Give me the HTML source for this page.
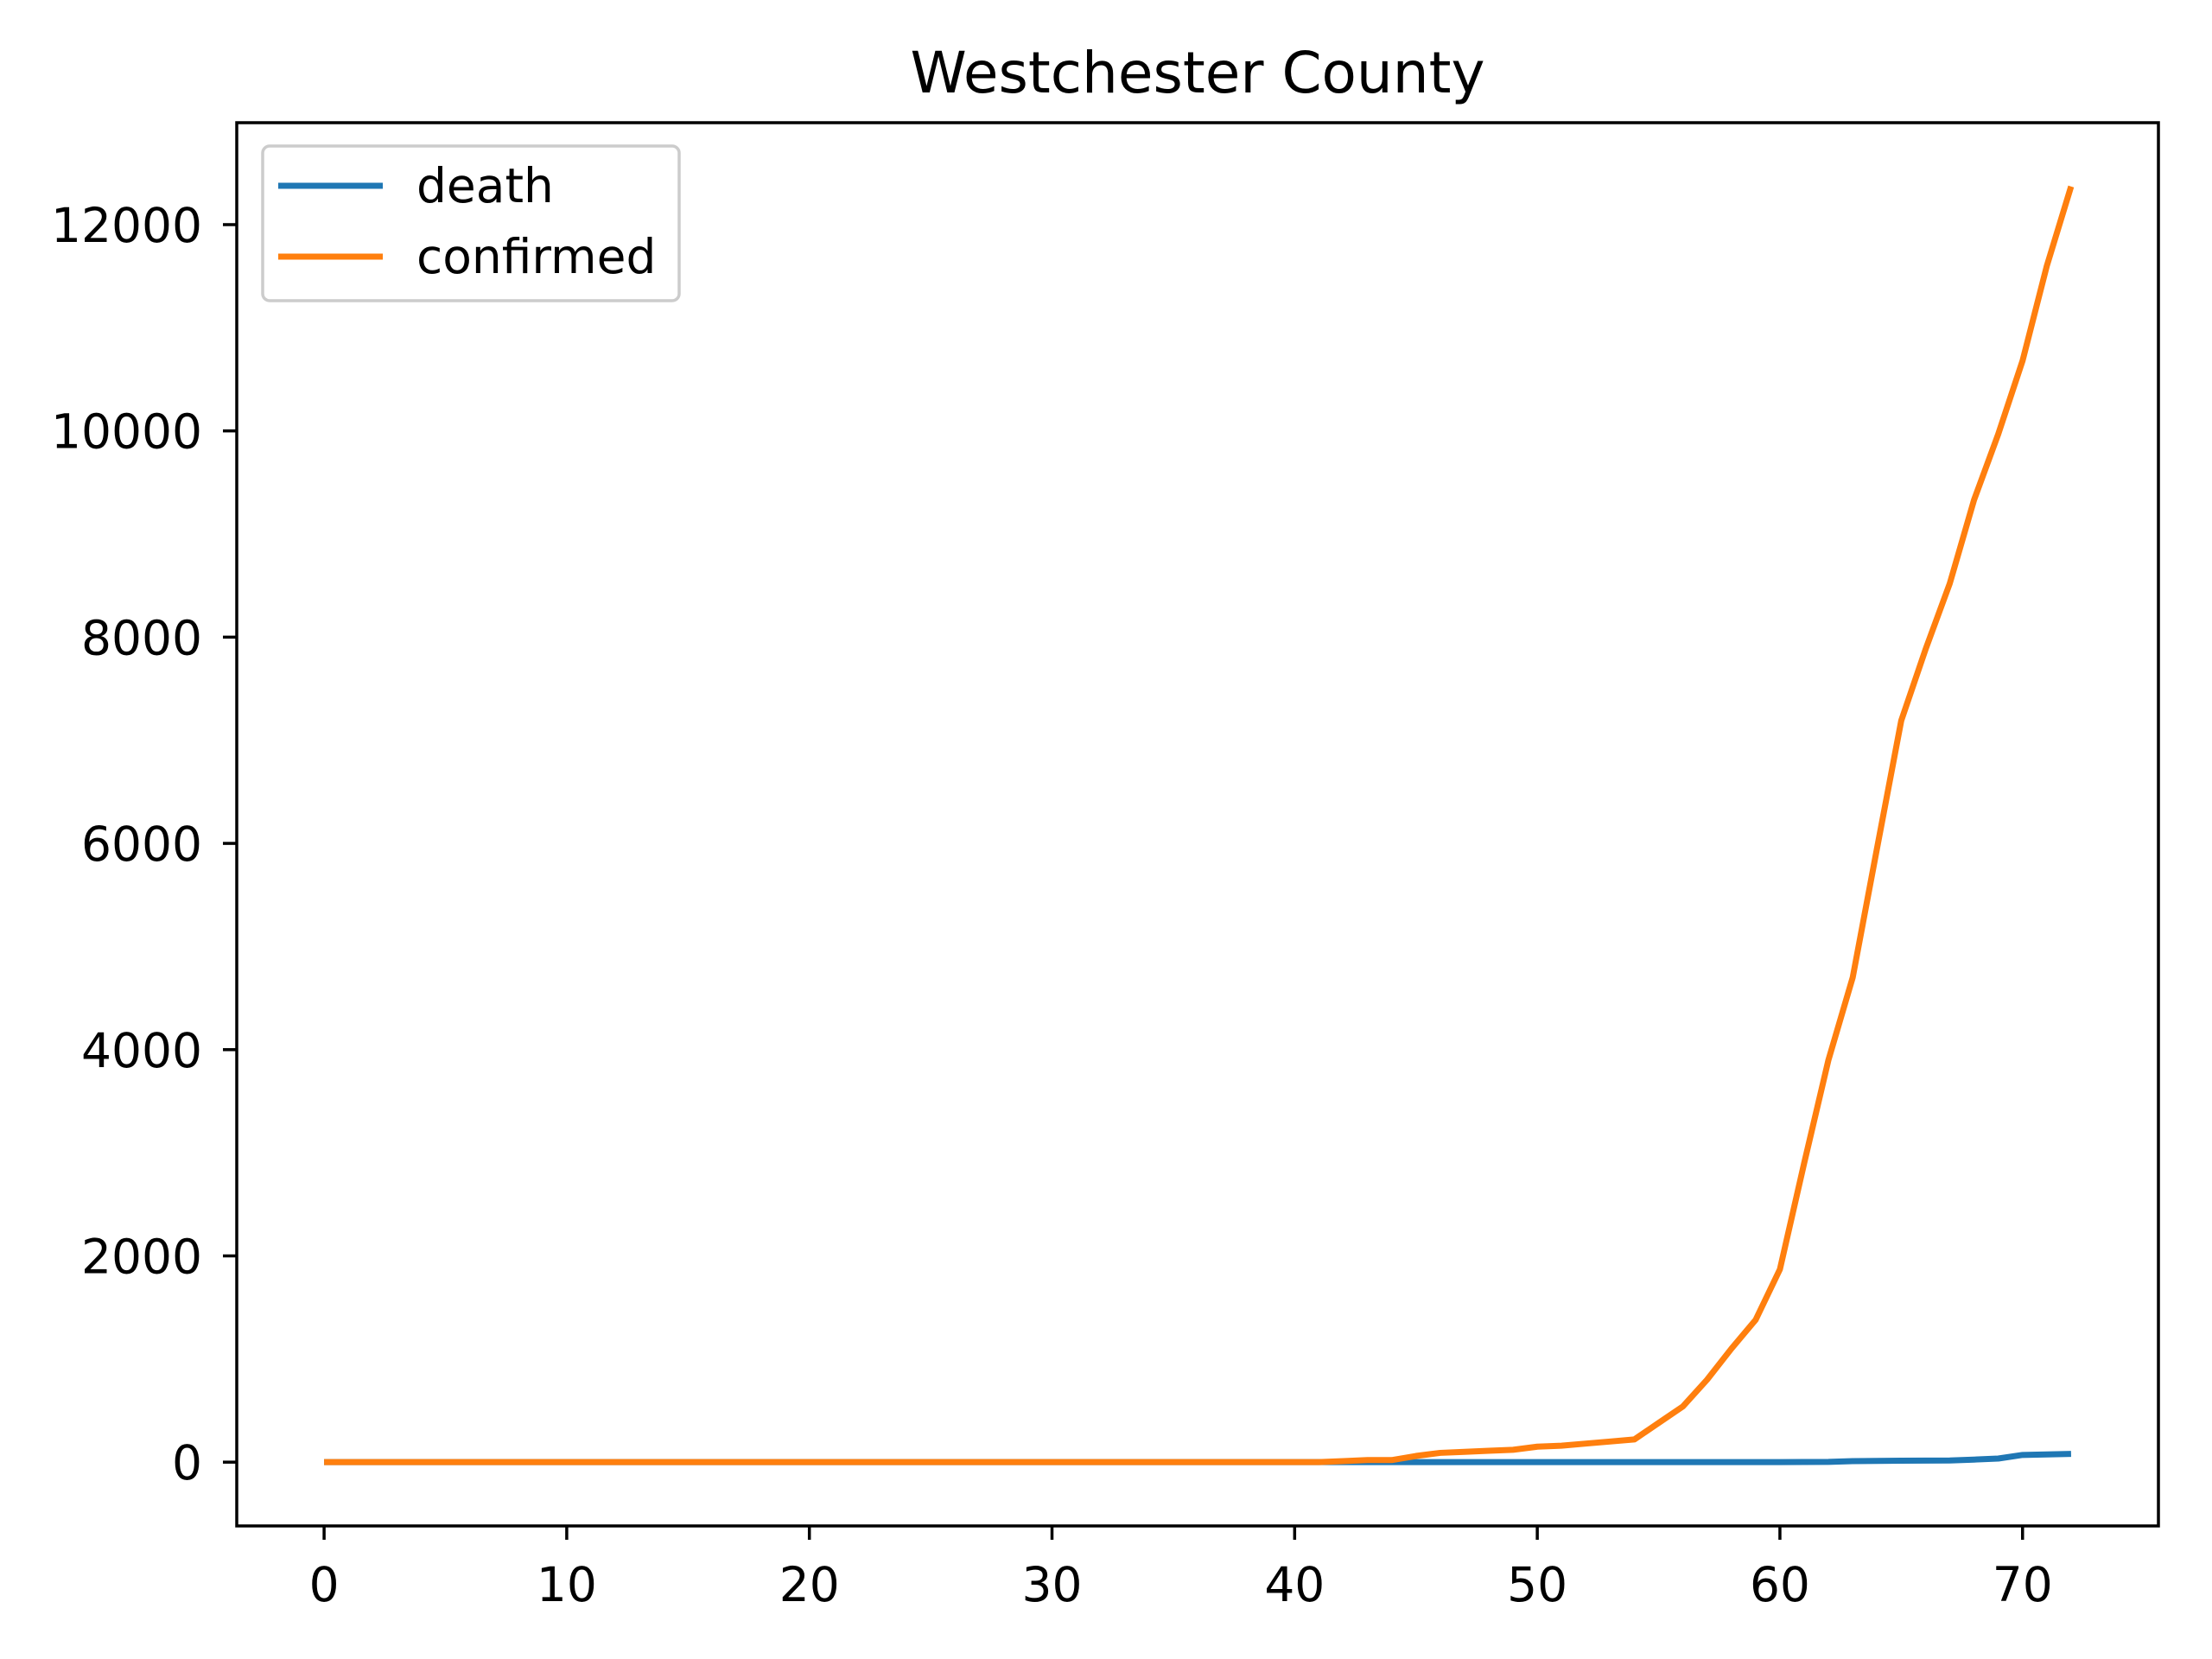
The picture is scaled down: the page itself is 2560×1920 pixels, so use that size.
<!DOCTYPE html>
<html><head><meta charset="utf-8"><style>
html,body{margin:0;padding:0;background:#fff;}
svg{display:block;font-family:"DejaVu Sans","Liberation Sans",sans-serif;}
</style></head><body>
<svg id="chart" width="2560" height="1920" viewBox="0 0 2560 1920" xmlns="http://www.w3.org/2000/svg">
<rect width="2560" height="1920" fill="#fff"/>
<text x="1386" y="107" font-size="66" text-anchor="middle">Westchester County</text>
<g id="plot"></g>
<rect x="274" y="142" width="2224" height="1624" fill="none" stroke="#000" stroke-width="3.5"/>
<g>
<rect x="304" y="169" width="482" height="179" rx="8" fill="#fff" fill-opacity="0.8" stroke="#ccc" stroke-width="3.5"/>
<line x1="322" y1="215" x2="443" y2="215" stroke="#1f77b4" stroke-width="7"/>
<text x="482" y="234" font-size="55">death</text>
<line x1="322" y1="297" x2="443" y2="297" stroke="#ff7f0e" stroke-width="7"/>
<text x="482" y="316" font-size="55">confirmed</text>
</g>
</svg>
<script>
const days = Array.from({length:73},(_,i)=>i);
const confirmed = [0,0,0,0,0,0,0,0,0,0,0,0,0,0,0,0,0,0,0,0,0,0,0,0,0,0,0,0,0,0,0,0,0,0,0,0,0,0,0,0,0,
0,10,20,20,60,90,100,110,120,150,160,180,200,220,380,540,800,1100,1380,1870,2900,3900,4700,5950,7190,7880,8520,9330,9970,10680,11600,12370];
const death = [0,0,0,0,0,0,0,0,0,0,0,0,0,0,0,0,0,0,0,0,0,0,0,0,0,0,0,0,0,0,0,0,0,0,0,0,0,0,0,0,0,
0,0,0,0,0,0,0,0,0,0,0,0,0,0,0,0,0,0,0,1,2,3,10,12,14,15,16,25,35,70,75,80];
const xTicks = [0,10,20,30,40,50,60,70];
const yTicks = [0,2000,4000,6000,8000,10000,12000];
const X0=274,X1=2498,Y0=142,Y1=1766;
const xmin=-3.6,xmax=75.6,ymin=-618.5,ymax=12988.5;
const sx=v=>X0+(v-xmin)/(xmax-xmin)*(X1-X0);
const sy=v=>Y1-(v-ymin)/(ymax-ymin)*(Y1-Y0);
const NS='http://www.w3.org/2000/svg';
const plot=document.getElementById('plot');
function mk(t,a){const e=document.createElementNS(NS,t);for(const k in a)e.setAttribute(k,a[k]);plot.appendChild(e);return e;}
xTicks.forEach(v=>{
  const l=mk('line',{x1:sx(v),x2:sx(v),y1:Y1,y2:Y1+16,stroke:'#000','stroke-width':3.5});
  
  
  const t=mk('text',{x:sx(v),y:Y1+87,'font-size':55,'text-anchor':'middle'});
  t.textContent=v;
  
  
});
yTicks.forEach(v=>{
  const l=mk('line',{x1:X0-16,x2:X0,y1:sy(v),y2:sy(v),stroke:'#000','stroke-width':3.5});
  
  
  const t=mk('text',{x:X0-40,y:sy(v)+20,'font-size':55,'text-anchor':'end'});
  t.textContent=v;
  
  
});
function series(vals,color,name){
  const p=mk('polyline',{points:days.map((d,i)=>sx(d)+','+sy(vals[i])).join(' '),fill:'none',stroke:color,'stroke-width':7,'stroke-linejoin':'round'});
  
  
}
series(death,'#1f77b4','death-line');
series(confirmed,'#ff7f0e','confirmed-line');
</script>
</body></html>
